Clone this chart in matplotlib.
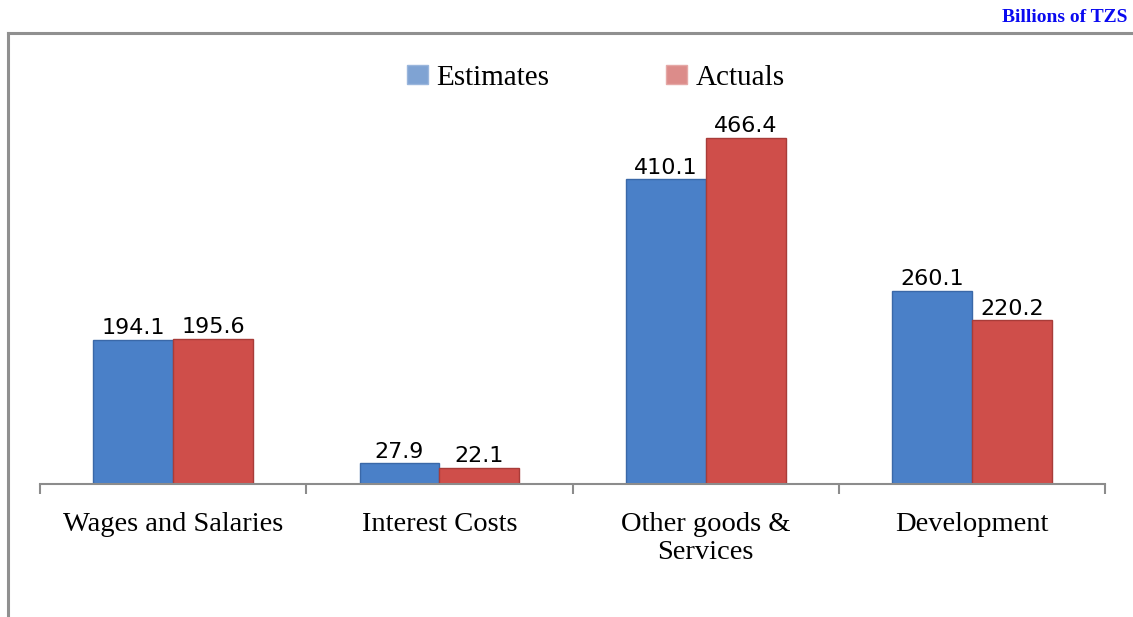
import numpy as np
import matplotlib.pyplot as plt
from matplotlib.lines import Line2D
from matplotlib.patches import Patch

categories = ["Wages and Salaries", "Interest Costs", "Other goods &\nServices", "Development"]
estimates = [194.1, 27.9, 410.1, 260.1]
actuals = [195.6, 22.1, 466.4, 220.2]

blue = "#4a80c8"
red = "#cf4e4a"

fig = plt.figure(figsize=(11.33, 6.17), dpi=100)

# outer frame (cut at right and bottom like the original)
fig.add_artist(Line2D([8/1133, 8/1133], [0, 1 - 33/617], color="#909090", lw=2.2))
fig.add_artist(Line2D([8/1133, 1.0], [1 - 33/617, 1 - 33/617], color="#909090", lw=2.2))

fig.text(1128/1133, 1 - 17/617, "Billions of TZS", ha="right", va="center",
         color="#0a0af0", fontsize=14, fontweight="bold", family="Liberation Serif")

ax = fig.add_axes([40/1133, 133/617, 1065/1133, 384/617])
x = np.arange(len(categories))
w = 0.30

b1 = ax.bar(x - w/2, estimates, w, color=blue, edgecolor="#3a68a8", linewidth=1.0, label="Estimates")
b2 = ax.bar(x + w/2, actuals, w, color=red, edgecolor="#a83c39", linewidth=1.0, label="Actuals")

for bars, vals in [(b1, estimates), (b2, actuals)]:
    for b, v in zip(bars, vals):
        ax.text(b.get_x() + b.get_width()/2, v + 2, f"{v:.1f}", ha="center", va="bottom",
                fontsize=16, family="DejaVu Sans", color="black")

ax.set_xlim(-0.5, 3.5)
ax.set_ylim(0, 517)
for s in ["top", "right", "left"]:
    ax.spines[s].set_visible(False)
ax.spines["bottom"].set_color("#8c8c8c")
ax.spines["bottom"].set_linewidth(1.5)
ax.set_yticks([])
ax.set_xticks(x)
ax.set_xticklabels(categories, fontsize=20.5, family="Liberation Serif", linespacing=1.15)
ax.tick_params(axis="x", which="major", length=0, pad=20)
ax.set_xticks(np.arange(-0.5, 4.0, 1.0), minor=True)
ax.tick_params(axis="x", which="minor", length=7, width=1.5, color="#8c8c8c", direction="out")

handles = [Patch(facecolor="#7fa3d3", edgecolor="#9ab6dc"),
           Patch(facecolor="#dc8c8a", edgecolor="#e5a8a6")]
fig.legend(handles, ["Estimates", "Actuals"], loc="center", bbox_to_anchor=(596/1133, 1 - 78/617),
           ncol=2, frameon=False, prop={"family": "Liberation Serif", "size": 21},
           handlelength=0.7, handleheight=0.65, handletextpad=0.3, columnspacing=4.0)

fig.savefig("out.png", dpi=100)
